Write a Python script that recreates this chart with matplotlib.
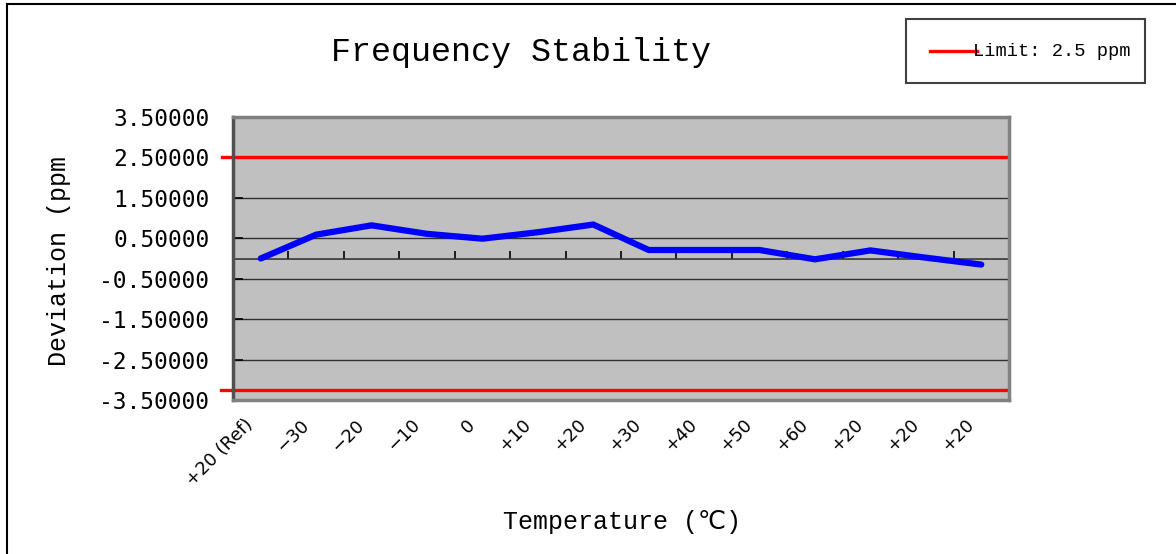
import numpy as np
import matplotlib
matplotlib.use('Agg')
import matplotlib.pyplot as plt
from matplotlib.lines import Line2D
from matplotlib.patches import Rectangle
import matplotlib.transforms as mtransforms

# data
temperatures = ['+20 (Ref)', '\u221230', '\u221220', '\u221210', '0', '+10', '+20',
                '+30', '+40', '+50', '+60', '+20', '+20', '+20']
deviation = [0.00, 0.59, 0.82, 0.61, 0.49, 0.65, 0.84,
             0.21, 0.21, 0.21, -0.02, 0.20, 0.02, -0.15]
limit_upper = 2.5
limit_lower = -3.25
y_ticks = [-3.5, -2.5, -1.5, -0.5, 0.5, 1.5, 2.5, 3.5]

W, H = 1176, 554
fig = plt.figure(figsize=(W / 100, H / 100), dpi=100)

# plot area in pixels: left 233, right 1009, top 117, bottom 400
ax = fig.add_axes([233 / W, 1 - 400 / H, (1009 - 233) / W, (400 - 117) / H])
ax.set_facecolor('#C0C0C0')

x = np.arange(len(temperatures))
ax.set_xlim(-0.5, len(temperatures) - 0.5)
ax.set_ylim(-3.5, 3.5)

# horizontal gridlines
for yv in y_ticks:
    ax.axhline(yv, color='#303030', lw=1.0, zorder=1)

# limit lines (stick out a little to the left of the plot area)
lim_tr = mtransforms.blended_transform_factory(ax.transAxes, ax.transData)
ax.plot([-0.014, 0.998], [limit_upper, limit_upper], color='#FF0000', lw=2.4,
        transform=lim_tr, clip_on=False, zorder=3)
ax.plot([-0.015, 0.996], [limit_lower, limit_lower], color='#FF0000', lw=2.4,
        transform=lim_tr, clip_on=False, zorder=3)

# deviation series
ax.plot(x, deviation, color='#0000FF', lw=4.5, solid_capstyle='round',
        solid_joinstyle='miter', zorder=4)

# frame
for side in ['top', 'right', 'bottom']:
    ax.spines[side].set_color('#808080')
    ax.spines[side].set_linewidth(2.5)
ax.spines['left'].set_color('#505050')
ax.spines['left'].set_linewidth(2.5)
for sp in ax.spines.values():
    sp.set_zorder(5)

# y axis
ax.set_yticks(y_ticks)
ax.set_yticklabels(['%.5f' % v for v in y_ticks], family='DejaVu Sans Mono', fontsize=16.5)
ax.tick_params(axis='y', direction='in', length=7, width=1.2, color='black', pad=17)

# category labels under the plot
ax.set_xticks(x)
ax.set_xticklabels(temperatures, rotation=45, ha='right', va='center',
                   rotation_mode='anchor', family='DejaVu Sans', fontsize=13)
ax.tick_params(axis='x', length=0, pad=16)
shift = mtransforms.ScaledTranslation(-10 / 100, 0, fig.dpi_scale_trans)
for lab in ax.get_xticklabels():
    lab.set_transform(lab.get_transform() + shift)

# horizontal axis line through zero with category boundary ticks pointing up
zero_axis = ax.secondary_xaxis(3.5 / 7.0)
zero_axis.set_alignment('bottom')
zero_axis.spines['bottom'].set_color('#303030')
zero_axis.spines['bottom'].set_linewidth(1.2)
zero_axis.set_xticks(np.arange(len(temperatures) + 1) - 0.5)
zero_axis.set_xticklabels([])
zero_axis.tick_params(axis='x', direction='in', length=6, width=1.2, color='black')

mono = ['Liberation Mono', 'DejaVu Sans Mono', 'DejaVu Sans']
fig.text(521 / W, 1 - 52 / H, 'Frequency Stability', family=mono, fontsize=24,
         ha='center', va='center')
fig.text(59 / W, 1 - 261 / H, 'Deviation (ppm', family=mono, fontsize=18,
         rotation=90, ha='center', va='center')
fig.text(622 / W, 1 - 522 / H, 'Temperature (\u2103)', family=mono, fontsize=18,
         ha='center', va='center')

# legend box
fig.add_artist(Rectangle((906 / W, 1 - 83 / H), (1145 - 906) / W, (83 - 19) / H,
                         transform=fig.transFigure, facecolor='white',
                         edgecolor='#404040', lw=1.5))
fig.add_artist(Line2D([930 / W, 977 / W], [1 - 51 / H, 1 - 51 / H],
                      transform=fig.transFigure, color='#FF0000', lw=2.4))
fig.text(973 / W, 1 - 51 / H, 'Limit: 2.5 ppm', family=mono, fontsize=13.5,
         ha='left', va='center')

# outer chart border (top and left edges visible)
fig.add_artist(Line2D([7 / W, 1.0], [1 - 4 / H, 1 - 4 / H],
                      transform=fig.transFigure, color='black', lw=1.5))
fig.add_artist(Line2D([7 / W, 7 / W], [0.0, 1 - 4 / H],
                      transform=fig.transFigure, color='black', lw=1.5))

fig.savefig('out.png', dpi=100)
plt.close(fig)
